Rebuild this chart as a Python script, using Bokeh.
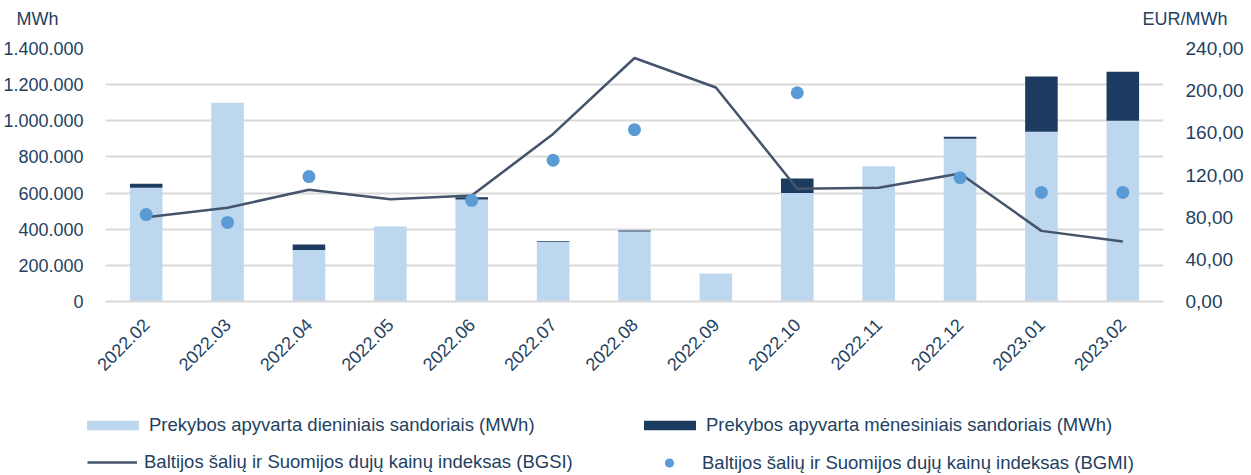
import math
from bokeh.plotting import figure
from bokeh.models import (ColumnDataSource, Range1d, LinearAxis, FixedTicker, Legend, LegendItem, Label)
from bokeh.embed import file_html
from bokeh.resources import INLINE

months = ["2022.02", "2022.03", "2022.04", "2022.05", "2022.06", "2022.07", "2022.08",
          "2022.09", "2022.10", "2022.11", "2022.12", "2023.01", "2023.02"]
daily_mwh = [630000, 1100000, 285000, 415000, 565000, 330000, 388000,
             155000, 600000, 748000, 900000, 940000, 1000000]
monthly_mwh = [22000, 0, 30000, 0, 12000, 5000, 5000,
               0, 80000, 0, 12000, 305000, 272000]
bgsi = [80.0, 89.0, 106.0, 97.0, 100.5, 159.0, 231.0, 203.0, 107.0, 108.0, 121.5, 67.0, 57.0]
bgmi_months = ["2022.02", "2022.03", "2022.04", "2022.06", "2022.07", "2022.08",
               "2022.10", "2022.12", "2023.01", "2023.02"]
bgmi = [82.5, 75.0, 118.5, 96.0, 134.0, 163.0, 198.0, 117.5, 103.5, 103.5]

left_ticks = [0, 200000, 400000, 600000, 800000, 1000000, 1200000, 1400000]
left_labels = ["0", "200.000", "400.000", "600.000", "800.000", "1.000.000", "1.200.000", "1.400.000"]
right_ticks = [0, 40, 80, 120, 160, 200, 240]
right_labels = ["0,00", "40,00", "80,00", "120,00", "160,00", "200,00", "240,00"]
legend_labels = ["Prekybos apyvarta dieniniais sandoriais (MWh)",
                 "Prekybos apyvarta mėnesiniais sandoriais (MWh)",
                 "Baltijos šalių ir Suomijos dujų kainų indeksas (BGSI)",
                 "Baltijos šalių ir Suomijos dujų kainų indeksas (BGMI)"]

FONT = "Liberation Sans"
TXT = "#243F60"
LIGHT = "#BDD7EE"
DARK = "#1C3B61"
LINE = "#44546A"
DOT = "#5B9BD5"
GRID = "#D9D9D9"
W = 1245

# ---------- header with unit labels ----------
head = figure(width=W, height=36, x_range=Range1d(0, W), y_range=Range1d(0, 36),
              min_border=0, output_backend="svg", toolbar_location=None,
              outline_line_color=None)
head.axis.visible = False
head.grid.visible = False
head.add_layout(Label(x=16, y=18, text="MWh", text_font=FONT, text_font_size="18px",
                      text_color=TXT, text_baseline="middle"))
head.add_layout(Label(x=1142, y=18, text="EUR/MWh", text_font=FONT, text_font_size="18px",
                      text_color=TXT, text_baseline="middle"))

# ---------- main chart ----------
p = figure(x_range=months, y_range=Range1d(0, 1400000),
           frame_width=1058, frame_height=253,
           min_border_left=105, min_border_right=82, min_border_top=12, min_border_bottom=90,
           output_backend="svg", toolbar_location=None, background_fill_color="white",
           border_fill_color="white", outline_line_color=None)
p.extra_y_ranges = {"eur": Range1d(0, 240)}

src = ColumnDataSource(dict(month=months, daily=daily_mwh, monthly=monthly_mwh, bgsi=bgsi))
src2 = ColumnDataSource(dict(month=bgmi_months, bgmi=bgmi))

p.vbar_stack(["daily", "monthly"], x="month", width=0.4, source=src,
             color=[LIGHT, DARK], line_color=None)
p.line(x="month", y="bgsi", source=src, y_range_name="eur", line_color=LINE, line_width=2.5)
p.scatter(x="month", y="bgmi", source=src2, y_range_name="eur", size=13,
          fill_color=DOT, line_color=None)

ax = p.yaxis[0]
ax.ticker = FixedTicker(ticks=left_ticks)
ax.major_label_overrides = {t: l for t, l in zip(left_ticks, left_labels)}
ax.axis_line_color = None
ax.major_tick_line_color = None
ax.minor_tick_line_color = None
ax.major_label_text_font = FONT
ax.major_label_text_font_size = "18px"
ax.major_label_text_color = TXT
ax.major_label_standoff = 16

rax = LinearAxis(y_range_name="eur", ticker=FixedTicker(ticks=right_ticks))
rax.major_label_overrides = {t: l for t, l in zip(right_ticks, right_labels)}
rax.axis_line_color = None
rax.major_tick_line_color = None
rax.minor_tick_line_color = None
rax.major_label_text_font = FONT
rax.major_label_text_font_size = "19px"
rax.major_label_text_color = TXT
rax.major_label_standoff = 16
p.add_layout(rax, "right")

xa = p.xaxis[0]
xa.major_label_orientation = math.pi / 4
xa.axis_line_color = GRID
xa.axis_line_width = 2
xa.major_tick_line_color = None
xa.minor_tick_line_color = None
xa.major_label_text_font = FONT
xa.major_label_text_font_size = "18px"
xa.major_label_text_color = TXT
xa.major_label_standoff = 14

p.xgrid.grid_line_color = None
p.ygrid.grid_line_color = GRID
p.ygrid.grid_line_width = 2
p.ygrid.ticker = FixedTicker(ticks=left_ticks)

# ---------- footer with legend ----------
FH = 83
foot = figure(width=W, height=FH, x_range=Range1d(0, 10), y_range=Range1d(0, 10),
              min_border=0, output_backend="svg", toolbar_location=None,
              outline_line_color=None)
foot.axis.visible = False
foot.grid.visible = False
r1 = foot.vbar(x=[-50], top=[-50], width=0.4, fill_color=LIGHT, line_color=None)
r2 = foot.vbar(x=[-50], top=[-50], width=0.4, fill_color=DARK, line_color=None)
r3 = foot.line(x=[-50, -49], y=[-50, -50], line_color=LINE, line_width=2.5)
r4 = foot.scatter(x=[-50], y=[-50], size=13, fill_color=DOT, line_color=None)

common = dict(label_text_font=FONT, label_text_font_size="18.5px", label_text_color=TXT,
              border_line_color=None, background_fill_alpha=0, padding=0, margin=0,
              label_height=20)
leg_bars = Legend(items=[LegendItem(label=legend_labels[0], renderers=[r1]),
                         LegendItem(label=legend_labels[1], renderers=[r2])],
                  location=(80, 38), orientation="horizontal",
                  glyph_width=65, glyph_height=12, label_standoff=4, label_width=488,
                  spacing=0, **common)
leg_line = Legend(items=[LegendItem(label=legend_labels[2], renderers=[r3])],
                  location=(87, 1), glyph_width=50, glyph_height=10, label_standoff=7,
                  **common)
leg_dot = Legend(items=[LegendItem(label=legend_labels[3], renderers=[r4])],
                 location=(643, 0), glyph_width=52, glyph_height=23, label_standoff=7,
                 **common)
for lg in (leg_bars, leg_line, leg_dot):
    foot.add_layout(lg, "center")

open("out.html", "w").write(file_html([head, p, foot], INLINE))
